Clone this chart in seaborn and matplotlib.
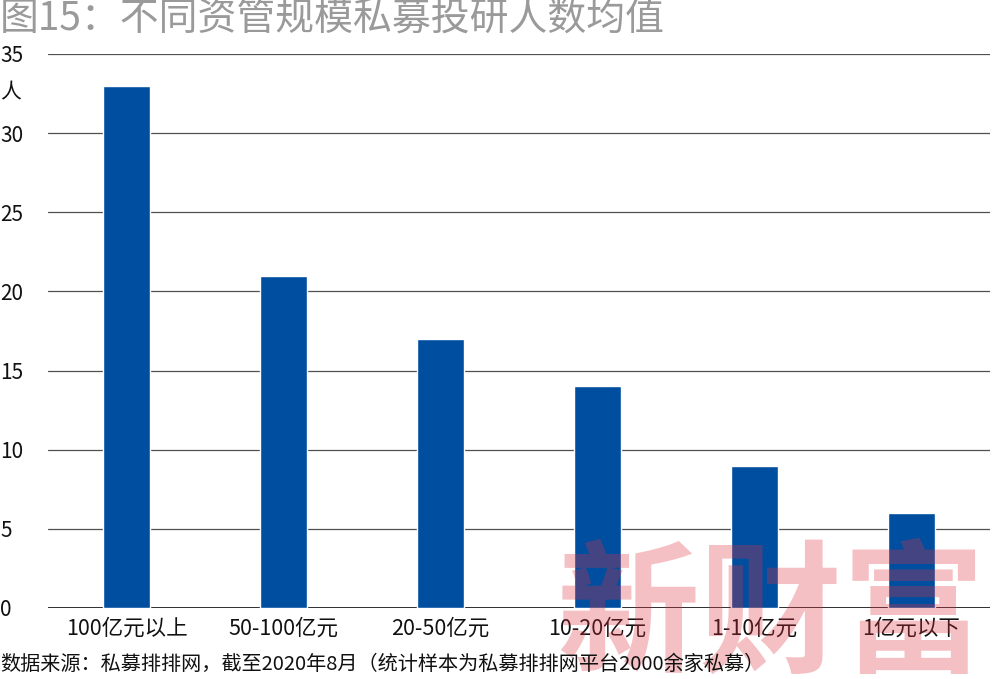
import matplotlib
matplotlib.use("Agg")
import matplotlib.pyplot as plt
import seaborn as sns
import pandas as pd

# data
categories = ["100亿元以上", "50-100亿元", "20-50亿元", "10-20亿元", "1-10亿元", "1亿元以下"]
values = [33, 21, 17, 14, 9, 6]
y_ticks = [0, 5, 10, 15, 20, 25, 30, 35]

title = "图15：不同资管规模私募投研人数均值"
source = "数据来源：私募排排网，截至2020年8月（统计样本为私募排排网平台2000余家私募）"

sns.set_style("white")
plt.rcParams['font.family'] = ['Noto Sans CJK SC', 'DejaVu Sans']

df = pd.DataFrame({"category": categories, "value": values})

fig = plt.figure(figsize=(9.92, 6.79), dpi=100)
ax = fig.add_axes([0.0484, 0.1046, 0.9496, 0.8159])

sns.barplot(data=df, x="category", y="value", color="#004EA0", saturation=1,
            width=0.3, ax=ax)

ax.set_xlim(-0.5, len(categories) - 0.5)
ax.set_ylim(0, 35)
ax.set_yticks(y_ticks)
ax.set_xlabel("")
ax.set_ylabel("")

# horizontal grid only, behind bars
ax.set_axisbelow(True)
ax.yaxis.grid(True, color="#505050", linewidth=0.9)
ax.xaxis.grid(False)
for s in ax.spines.values():
    s.set_visible(False)
ax.axhline(0, color="#111111", linewidth=1.2, zorder=0.6)

ax.tick_params(axis="y", length=0, pad=34.5, labelsize=15, labelcolor="#111111")
for lbl in ax.get_yticklabels():
    lbl.set_horizontalalignment("left")
    lbl.set_verticalalignment("center_baseline")
ax.tick_params(axis="x", length=0, pad=7, labelsize=15.5, labelcolor="#111111")

# unit label below the top tick
fig.text(0.0, 1 - 92 / 679, "人", fontsize=15, color="#111111", ha="left", va="center")

# title and source
fig.text(0.0, 1 - 20 / 679, title, fontsize=28, color="#9a9a9a", ha="left", va="center")
fig.text(0.0, 1 - 664 / 679, source, fontsize=14.5, color="#111111", ha="left", va="center")

# watermark
ax.text(0.777, 1 - 547 / 679, "新财富", transform=fig.transFigure,
        fontsize=103, fontweight="bold", color="#E0303A", alpha=0.3,
        ha="center", va="top", zorder=3, clip_on=False)

fig.savefig("out.png", dpi=100)
